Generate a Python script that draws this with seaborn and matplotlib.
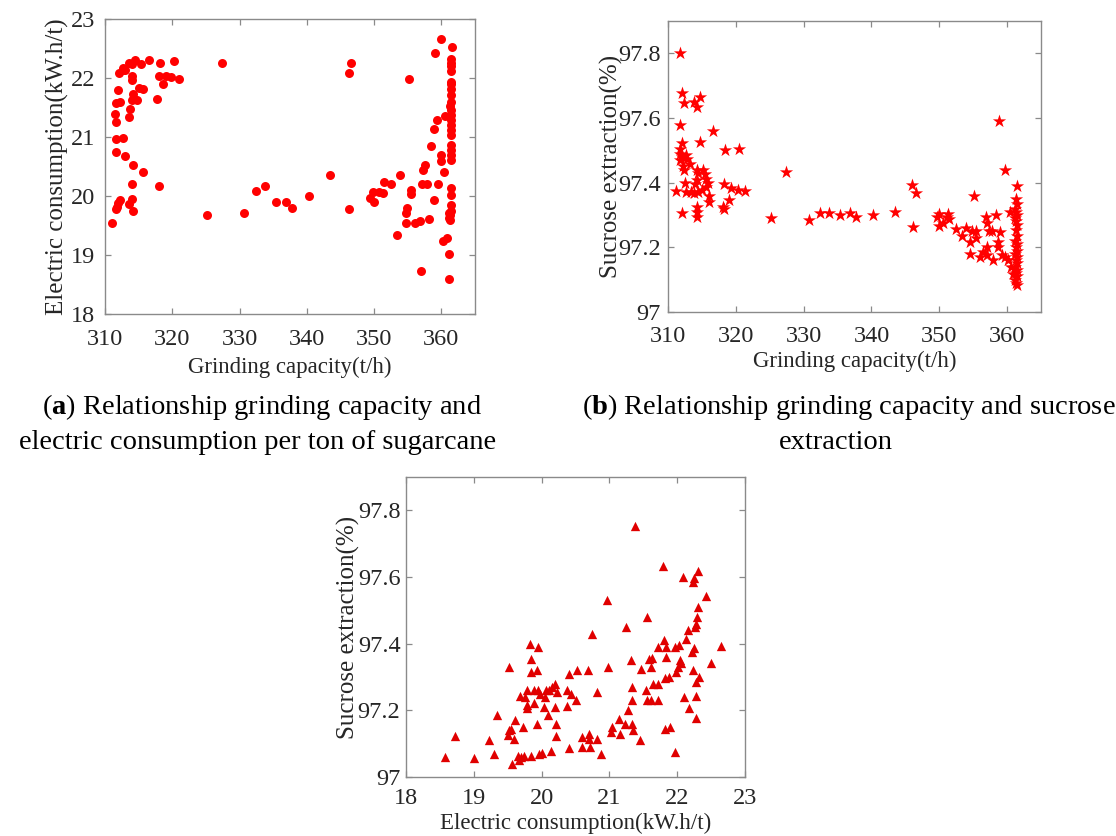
import numpy as np
import pandas as pd
import matplotlib
matplotlib.use("Agg")
import matplotlib.pyplot as plt
from matplotlib.ticker import FuncFormatter, FixedLocator
import seaborn as sns

# ---------------- data ----------------
# (a) grinding capacity (t/h) vs electric consumption (kW.h/t)
a_capacity = [
    311.0, 311.6, 311.8, 312.0, 312.2, 313.5, 314.0, 314.1, 314.0, 318.1, 315.6, 314.2,
    312.9, 311.6, 311.6, 312.7, 311.7, 311.5, 313.6, 313.7, 311.6, 312.3, 314.0, 314.8,
    314.1, 311.9, 315.1, 315.7, 317.8, 318.6, 314.0, 314.0, 318.1, 319.0, 319.8, 321.0,
    312.1, 312.6, 313.0, 312.6, 313.6, 314.0, 314.4, 315.4, 316.5, 318.2, 320.2,
    325.1, 327.4, 330.7, 332.4, 333.8, 335.4, 336.9, 337.8, 340.3, 343.5, 346.2, 346.6, 346.2,
    355.2, 359.9, 359.1, 361.6,
    361.5, 361.5, 361.5, 361.5, 361.5, 361.5, 361.5, 361.5, 361.5, 361.5, 361.5, 361.5,
    361.5, 361.5, 361.5, 361.5, 361.5, 361.5, 361.5, 361.5, 361.5, 361.5, 361.3, 361.3,
    361.3, 361.5,
    360.6, 359.3, 358.9, 358.5, 359.9, 359.9, 360.4, 353.9, 357.5, 357.2, 357.1, 357.8,
    359.5, 351.5, 352.5, 349.9, 351.4, 350.8, 349.4, 350.0, 355.5, 355.5, 358.9, 354.9,
    354.8, 354.8, 356.1, 356.8, 358.1, 353.4, 360.8, 360.3, 361.1, 357.0, 361.2, 361.1,
    361.1,
]
a_consumption = [
    19.54, 19.78, 19.82, 19.88, 19.93, 19.87, 19.95, 19.75, 20.21, 20.17, 20.41, 20.53,
    20.68, 20.74, 20.97, 20.99, 21.26, 21.39, 21.34, 21.47, 21.57, 21.59, 21.63, 21.63,
    21.73, 21.80, 21.83, 21.81, 21.64, 21.89, 21.97, 22.04, 22.03, 22.04, 22.01, 21.99,
    22.09, 22.14, 22.13, 22.17, 22.25, 22.24, 22.30, 22.23, 22.30, 22.26, 22.29,
    19.68, 22.25, 19.72, 20.09, 20.17, 19.90, 19.90, 19.79, 20.00, 20.36, 22.08, 22.25, 19.78,
    21.98, 22.66, 22.43, 22.52,
    22.32, 22.26, 22.20, 22.11, 21.94, 21.89, 21.81, 21.72, 21.60, 21.46, 21.38, 21.29,
    21.21, 21.04, 20.87, 20.78, 20.70, 20.61, 20.13, 20.02, 19.85, 19.74, 19.68, 19.59,
    21.52, 21.12,
    21.35, 21.29, 21.14, 20.84, 20.70, 20.60, 20.41, 20.36, 20.53, 20.44, 20.20, 20.20,
    20.20, 20.23, 20.20, 20.06, 20.05, 20.06, 19.96, 19.89, 20.10, 20.04, 19.93, 19.79,
    19.72, 19.54, 19.54, 19.57, 19.61, 19.34, 19.28, 19.23, 19.01, 18.73, 18.59, 19.71,
    19.63,
]

# (b) grinding capacity (t/h) vs sucrose extraction (%)
b_capacity = [
    311.7, 312.1, 312.4, 314.7, 313.9, 314.2, 311.8, 316.7, 312.0, 314.7, 318.4, 320.5,
    311.8, 311.8, 312.0, 311.8, 312.7, 312.8, 312.2, 312.3, 313.2, 314.2, 314.4, 315.1,
    315.4, 315.6, 312.5, 314.0, 314.2, 311.2, 312.7, 313.4, 313.9, 314.4, 315.0, 315.6,
    315.9, 318.3, 319.3, 320.3, 321.3, 316.0, 316.0, 319.0, 318.1, 318.3, 312.0, 314.2,
    314.2, 314.3,
    325.2, 327.4, 330.8, 332.4, 333.8, 335.4, 336.9, 337.7, 340.2, 343.4, 346.0, 346.6, 346.1,
    349.6, 350.0, 349.9, 350.5, 351.1, 351.3, 351.5, 352.5, 353.3, 353.9, 354.6, 354.6,
    354.8, 355.1, 355.4, 355.4, 356.0, 356.5, 356.9, 357.1, 357.4, 357.0, 357.0, 357.7,
    357.9, 358.3, 358.8, 358.7, 359.0, 358.7, 359.3, 359.7, 359.7, 360.1, 360.4, 360.6,
    360.9,
    361.5, 361.3, 361.4, 361.2, 361.3, 361.4, 361.2, 361.3, 361.5, 361.3, 361.4, 361.2,
    361.5, 361.3, 361.4, 361.2, 361.5, 361.3, 361.4, 361.2, 361.5, 361.3, 361.4, 361.2,
    361.3, 361.4,
]
b_extraction = [
    97.800, 97.676, 97.647, 97.666, 97.649, 97.633, 97.577, 97.559, 97.523, 97.525, 97.500, 97.505,
    97.505, 97.490, 97.478, 97.470, 97.487, 97.474, 97.453, 97.438, 97.458, 97.440, 97.430, 97.438,
    97.427, 97.410, 97.400, 97.397, 97.407, 97.375, 97.372, 97.370, 97.368, 97.372, 97.377, 97.386,
    97.400, 97.396, 97.384, 97.378, 97.374, 97.358, 97.340, 97.345, 97.326, 97.317, 97.307, 97.324,
    97.309, 97.295,
    97.290, 97.432, 97.285, 97.305, 97.305, 97.300, 97.305, 97.295, 97.300, 97.310, 97.392, 97.368, 97.262,
    97.293, 97.304, 97.265, 97.275, 97.295, 97.304, 97.288, 97.257, 97.234, 97.260, 97.216, 97.180,
    97.252, 97.360, 97.252, 97.229, 97.170, 97.185, 97.295, 97.275, 97.252, 97.200, 97.175, 97.252,
    97.160, 97.300, 97.590, 97.216, 97.247, 97.200, 97.175, 97.170, 97.440, 97.160, 97.310, 97.140,
    97.118,
    97.390, 97.350, 97.335, 97.320, 97.310, 97.300, 97.290, 97.280, 97.270, 97.255, 97.235, 97.220,
    97.210, 97.200, 97.190, 97.180, 97.170, 97.160, 97.150, 97.140, 97.130, 97.120, 97.110, 97.100,
    97.090, 97.085,
]

# (c) electric consumption (kW.h/t) vs sucrose extraction (%)
c_consumption = [
    18.58, 18.72, 19.01, 19.22, 19.30, 19.34, 19.52, 19.51, 19.52, 19.55, 19.57, 19.60,
    19.61, 19.65, 19.67, 19.70, 19.68, 19.73, 19.74, 19.75, 19.78, 19.78, 19.78, 19.83,
    19.84, 19.85, 19.84, 19.89, 19.89, 19.93, 19.94, 19.93, 19.95, 19.96, 19.98, 20.01,
    20.05, 20.03, 20.06, 20.10, 20.11, 20.14, 20.16, 20.20, 20.20, 20.21, 20.21, 20.22,
    20.37, 20.37, 20.41, 20.41, 20.44, 20.52, 20.51, 20.59, 20.60, 20.69, 20.70, 20.71,
    20.70, 20.74, 20.82, 20.81, 20.87, 20.96, 20.98, 21.02, 21.04, 21.14, 21.16, 21.23,
    21.25, 21.28, 21.32, 21.33, 21.33, 21.34, 21.35, 21.37, 21.45, 21.46, 21.54, 21.56,
    21.56, 21.59, 21.61, 21.62, 21.63, 21.64, 21.72, 21.72, 21.72, 21.79, 21.81, 21.82,
    21.82, 21.83, 21.83, 21.88, 21.90, 21.96, 21.96, 21.98, 22.01, 22.03, 22.04, 22.06,
    22.09, 22.10, 22.13, 22.16, 22.17, 22.22, 22.23, 22.23, 22.24, 22.25, 22.26, 22.27,
    22.27, 22.28, 22.28, 22.29, 22.30, 22.30, 22.32, 22.42, 22.50, 22.64,
]
c_extraction = [
    97.060, 97.123, 97.058, 97.110, 97.068, 97.187, 97.329, 97.127, 97.140, 97.145, 97.040, 97.115,
    97.172, 97.062, 97.052, 97.060, 97.243, 97.150, 97.062, 97.240, 97.260, 97.215, 97.208, 97.400,
    97.353, 97.316, 97.062, 97.223, 97.260, 97.158, 97.390, 97.320, 97.260, 97.068, 97.250, 97.072,
    97.240, 97.210, 97.260, 97.185, 97.260, 97.078, 97.270, 97.280, 97.210, 97.158, 97.122, 97.256,
    97.260, 97.212, 97.310, 97.088, 97.250, 97.320, 97.230, 97.120, 97.090, 97.320, 97.130, 97.090,
    97.115, 97.430, 97.256, 97.115, 97.070, 97.530, 97.329, 97.135, 97.150, 97.175, 97.130, 97.160,
    97.450, 97.200, 97.350, 97.270, 97.230, 97.160, 97.140, 97.754, 97.112, 97.323, 97.260, 97.480,
    97.230, 97.353, 97.230, 97.330, 97.356, 97.280, 97.280, 97.230, 97.390, 97.632, 97.410, 97.296,
    97.145, 97.360, 97.390, 97.300, 97.150, 97.390, 97.075, 97.316, 97.330, 97.396, 97.350, 97.343,
    97.600, 97.240, 97.413, 97.440, 97.208, 97.376, 97.320, 97.586, 97.596, 97.386, 97.451, 97.243,
    97.178, 97.459, 97.286, 97.480, 97.510, 97.617, 97.300, 97.543, 97.343, 97.394,
]

grind_ticks = [310, 320, 330, 340, 350, 360]
elec_ticks = [18, 19, 20, 21, 22, 23]
sucrose_ticks = [97.0, 97.2, 97.4, 97.6, 97.8]

label_grind = "Grinding capacity(t/h)"
label_elec = "Electric consumption(kW.h/t)"
label_sucrose = "Sucrose extraction(%)"
caption_a = ["($\\mathbf{a}$) Relationship grinding capacity and",
             "electric consumption per ton of sugarcane"]
caption_b = ["($\\mathbf{b}$) Relationship grinding capacity and sucrose",
             "extraction"]

# ---------------- style ----------------
sns.set_theme(style="white")
plt.rcParams["font.family"] = ["Liberation Serif", "DejaVu Serif"]
plt.rcParams["mathtext.fontset"] = "custom"
plt.rcParams["mathtext.rm"] = "Liberation Serif"
plt.rcParams["mathtext.bf"] = "Liberation Serif:bold"

SPINE = "#8a8a8a"
TXT = "#262626"
TICK_FS = 17.5
XLABEL_FS = 16.5
YLABEL_FS = 18

fig = plt.figure(figsize=(11.16, 8.36), dpi=100)
fig.patch.set_facecolor("white")

ax_a = fig.add_axes([0.0941, 0.6244, 0.3315, 0.3529])
ax_b = fig.add_axes([0.5986, 0.6268, 0.3342, 0.3481])
ax_c = fig.add_axes([0.3638, 0.0706, 0.3038, 0.3589])

df_a = pd.DataFrame({"x": a_capacity, "y": a_consumption})
df_b = pd.DataFrame({"x": b_capacity, "y": b_extraction})
df_c = pd.DataFrame({"x": c_consumption, "y": c_extraction})

sns.scatterplot(data=df_a, x="x", y="y", ax=ax_a, marker="o", color="#ff0000",
                s=42, linewidth=0)
sns.scatterplot(data=df_b, x="x", y="y", ax=ax_b, marker="*", color="#ff0000",
                s=100, linewidth=0)
sns.scatterplot(data=df_c, x="x", y="y", ax=ax_c, marker="^", color="#e00000",
                s=45, linewidth=0)

fmt = FuncFormatter(lambda v, p: f"{v:g}")

def style(ax, xlim, ylim, xticks, yticks, xlabel, ylabel, xpad, ypad, xlp, ylp):
    ax.set_xlim(*xlim)
    ax.set_ylim(*ylim)
    ax.xaxis.set_major_locator(FixedLocator(xticks))
    ax.yaxis.set_major_locator(FixedLocator(yticks))
    ax.xaxis.set_major_formatter(fmt)
    ax.yaxis.set_major_formatter(fmt)
    ax.tick_params(direction="in", length=4, width=0.9, color=SPINE,
                   labelsize=TICK_FS, labelcolor=TXT, top=True, right=True,
                   bottom=True, left=True)
    ax.tick_params(axis="x", pad=xpad)
    ax.tick_params(axis="y", pad=ypad)
    for sp in ax.spines.values():
        sp.set_color(SPINE)
        sp.set_linewidth(1.0)
        sp.set_visible(True)
    ax.set_xlabel(xlabel, fontsize=XLABEL_FS, color=TXT, labelpad=xlp)
    ax.set_ylabel(ylabel, fontsize=YLABEL_FS, color=TXT, labelpad=ylp)
    ax.grid(False)
    ax.set_facecolor("white")

style(ax_a, (310, 365), (18, 23), grind_ticks, elec_ticks, label_grind, label_elec, 11, 7, 5, 1)
style(ax_b, (310, 365), (97, 97.9), grind_ticks, sucrose_ticks, label_grind, label_sucrose, 10, 5, 3, -3)
style(ax_c, (18, 23), (97, 97.9), elec_ticks, sucrose_ticks, label_elec, label_sucrose, 8, 4, 3, -2)

CAP_FS = 20.5
fig.text(0.235, 1 - 407 / 836, caption_a[0], ha="center", va="center", fontsize=CAP_FS, color="black")
fig.text(0.231, 1 - 443 / 836, caption_a[1], ha="center", va="center", fontsize=CAP_FS, color="black")
fig.text(0.7605, 1 - 407 / 836, caption_b[0], ha="center", va="center", fontsize=CAP_FS, color="black")
fig.text(0.749, 1 - 443 / 836, caption_b[1], ha="center", va="center", fontsize=CAP_FS, color="black")

fig.savefig("out.png", dpi=100, facecolor="white")
